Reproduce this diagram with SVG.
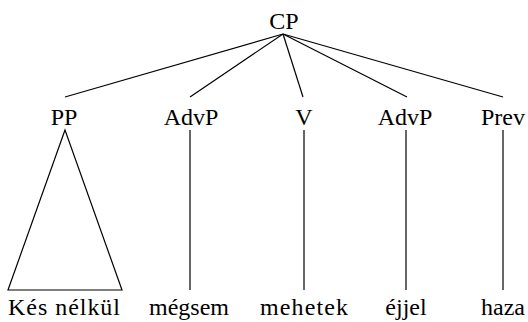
<svg xmlns="http://www.w3.org/2000/svg" width="528" height="322" viewBox="0 0 528 322">
<style>
.t{font-size:24px;fill:#000;text-anchor:middle}
.e{stroke:#000;stroke-width:1.2;fill:none}
</style>
<rect width="528" height="322" fill="#fff"/>
<g id="connectors">
<line class="e" x1="283" y1="34" x2="65" y2="97"/>
<line class="e" x1="283" y1="34" x2="190" y2="97"/>
<line class="e" x1="283" y1="34" x2="303" y2="97"/>
<line class="e" x1="283" y1="34" x2="407" y2="97"/>
<line class="e" x1="283" y1="34" x2="503" y2="97"/>
<polygon class="e" points="65,130 8,290 122,290"/>
<line class="e" x1="190" y1="130" x2="190" y2="290"/>
<line class="e" x1="304" y1="130" x2="304" y2="290"/>
<line class="e" x1="406" y1="130" x2="406" y2="290"/>
<line class="e" x1="503" y1="130" x2="503" y2="290"/>
</g>
<g id="CP"><text class="t" font-family="Liberation Serif" style="font-family:'Liberation Serif',serif" x="284" y="29">CP</text></g>
<g id="PP"><text class="t" font-family="Liberation Serif" style="font-family:'Liberation Serif',serif" x="64" y="125">PP</text></g>
<g id="AdvP1"><text class="t" font-family="Liberation Serif" style="font-family:'Liberation Serif',serif" x="191" y="125">AdvP</text></g>
<g id="V"><text class="t" font-family="Liberation Serif" style="font-family:'Liberation Serif',serif" x="304" y="125">V</text></g>
<g id="AdvP2"><text class="t" font-family="Liberation Serif" style="font-family:'Liberation Serif',serif" x="405" y="125">AdvP</text></g>
<g id="Prev"><text class="t" font-family="Liberation Serif" style="font-family:'Liberation Serif',serif" x="503" y="125">Prev</text></g>
<g id="w1"><text class="t" font-family="Liberation Serif" style="font-family:'Liberation Serif',serif" x="64" y="315" textLength="112">Kés nélkül</text></g>
<g id="w2"><text class="t" font-family="Liberation Serif" style="font-family:'Liberation Serif',serif" x="189" y="315">mégsem</text></g>
<g id="w3"><text class="t" font-family="Liberation Serif" style="font-family:'Liberation Serif',serif" x="304" y="315" textLength="88">mehetek</text></g>
<g id="w4"><text class="t" font-family="Liberation Serif" style="font-family:'Liberation Serif',serif" x="406" y="315">éjjel</text></g>
<g id="w5"><text class="t" font-family="Liberation Serif" style="font-family:'Liberation Serif',serif" x="503" y="315">haza</text></g>
</svg>
